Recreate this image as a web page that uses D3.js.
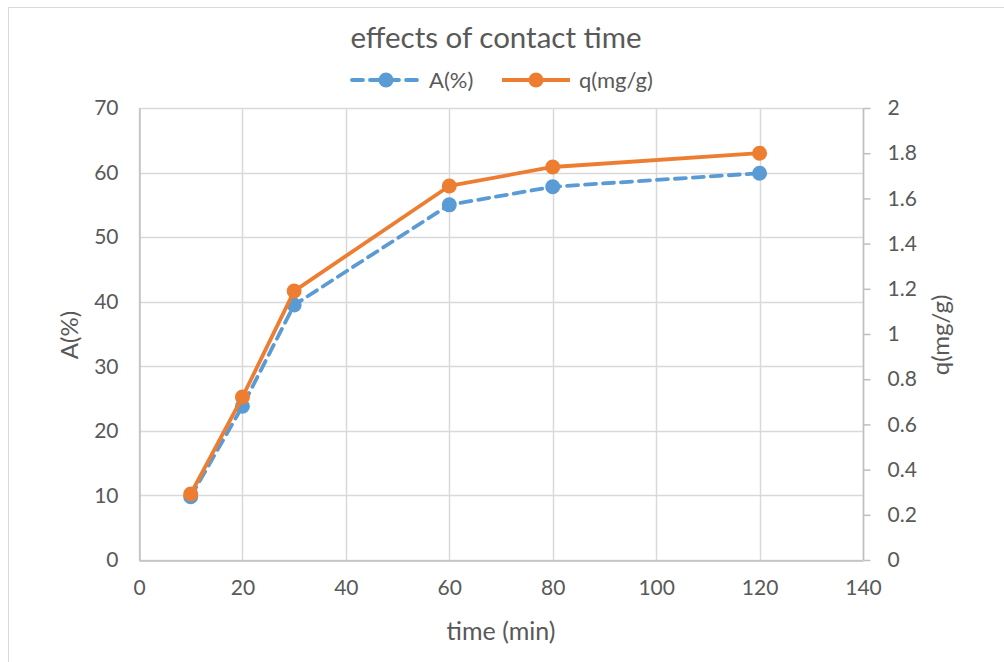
<!DOCTYPE html>
<html>
<head>
<meta charset="utf-8">
<script src="https://cdn.jsdelivr.net/npm/d3@7/dist/d3.min.js"></script>
<style>
  html, body { margin: 0; padding: 0; background: #fff; }
  svg { display: block; font-family: Lato, "Open Sans", sans-serif; }
</style>
</head>
<body>
<svg id="chart" width="1004" height="662"></svg>
<script>
// Contact time (min)
const times = [10, 20, 30, 60, 80, 120];
// Removal efficiency A(%)
const removal = [9.8, 23.8, 39.5, 55.0, 57.8, 59.9];
// Adsorption capacity q (mg/g)
const capacity = [0.292, 0.721, 1.19, 1.655, 1.739, 1.80];

const xTicks = [0, 20, 40, 60, 80, 100, 120, 140];
const leftTicks = [0, 10, 20, 30, 40, 50, 60, 70];
const rightTicks = [0, 0.2, 0.4, 0.6, 0.8, 1, 1.2, 1.4, 1.6, 1.8, 2];

const titleText = "effects of contact time";
const seriesNames = ["A(%)", "q(mg/g)"];
const xTitle = "time (min)";
const leftTitle = "A(%)";
const rightTitle = "q(mg/g)";

const blue = "#5b9bd5", orange = "#ed7d31", textCol = "#595959";
const grid = "#d9d9d9", axisCol = "#bfbfbf";

const svg = d3.select("#chart");
const plot = { left: 139, right: 863, top: 108, bottom: 560 };

// chart frame
svg.append("rect").attr("x", 8.5).attr("y", 7.5).attr("width", 1010).attr("height", 670)
  .attr("fill", "#fff").attr("stroke", "#d9d9d9").attr("stroke-width", 1);

const x = d3.scaleLinear().domain([0, 140]).range([plot.left, plot.right]);
const yL = d3.scaleLinear().domain([0, 70]).range([plot.bottom, plot.top]);
const yR = d3.scaleLinear().domain([0, 2]).range([plot.bottom, plot.top]);

// gridlines
svg.append("g").selectAll("line").data(leftTicks).join("line")
  .attr("x1", plot.left).attr("x2", plot.right)
  .attr("y1", d => Math.round(yL(d)) + 0.5).attr("y2", d => Math.round(yL(d)) + 0.5)
  .attr("stroke", grid).attr("stroke-width", 1.5);
svg.append("g").selectAll("line").data(xTicks).join("line")
  .attr("y1", plot.top).attr("y2", plot.bottom)
  .attr("x1", d => Math.round(x(d)) + 0.5).attr("x2", d => Math.round(x(d)) + 0.5)
  .attr("stroke", grid).attr("stroke-width", 1.5);

const tickFont = "21px";

// bottom axis
const xAxis = svg.append("g").attr("transform", `translate(0,${Math.round(plot.bottom) + 0.5})`)
  .call(d3.axisBottom(x).tickValues(xTicks).tickSize(0).tickPadding(20).tickFormat(d3.format("d")));
xAxis.select(".domain").attr("stroke", axisCol).attr("stroke-width", 1.5);
xAxis.selectAll("text").attr("fill", textCol).style("font-size", tickFont).style("font-family", "Lato, sans-serif");

// left axis
const lAxis = svg.append("g").attr("transform", `translate(${plot.left + 0.5},0)`)
  .call(d3.axisLeft(yL).tickValues(leftTicks).tickSize(0).tickPadding(21).tickFormat(d3.format("d")));
lAxis.select(".domain").attr("stroke", axisCol).attr("stroke-width", 1.5);
lAxis.selectAll("text").attr("fill", textCol).style("font-size", tickFont).style("font-family", "Lato, sans-serif");

// right axis with outward tick marks
const rAxis = svg.append("g").attr("transform", `translate(${plot.right + 0.5},0)`)
  .call(d3.axisRight(yR).tickValues(rightTicks).tickSize(7).tickPadding(17)
    .tickFormat(d => d3.format("~g")(d)));
rAxis.select(".domain").attr("stroke", axisCol).attr("stroke-width", 1.5).attr("d", `M0,${plot.top}V${plot.bottom}`);
rAxis.selectAll(".tick line").attr("stroke", axisCol).attr("stroke-width", 1.5);
rAxis.selectAll("text").attr("fill", textCol).style("font-size", tickFont).style("font-family", "Lato, sans-serif");

// series
const seriesA = times.map((t, i) => [t, removal[i]]);
const seriesQ = times.map((t, i) => [t, capacity[i]]);

svg.append("path").datum(seriesA)
  .attr("d", d3.line().x(d => x(d[0])).y(d => yL(d[1])))
  .attr("fill", "none").attr("stroke", blue).attr("stroke-width", 3.8)
  .attr("stroke-dasharray", "11,7").attr("stroke-linecap", "round");
svg.append("g").selectAll("circle").data(seriesA).join("circle")
  .attr("cx", d => x(d[0])).attr("cy", d => yL(d[1])).attr("r", 7.5).attr("fill", blue);

svg.append("path").datum(seriesQ)
  .attr("d", d3.line().x(d => x(d[0])).y(d => yR(d[1])))
  .attr("fill", "none").attr("stroke", orange).attr("stroke-width", 3.8).attr("stroke-linejoin", "round");
svg.append("g").selectAll("circle").data(seriesQ).join("circle")
  .attr("cx", d => x(d[0])).attr("cy", d => yR(d[1])).attr("r", 7.5).attr("fill", orange);

// title
svg.append("text").attr("x", 496).attr("y", 48).attr("text-anchor", "middle")
  .attr("fill", textCol).style("font-size", "29.5px").text(titleText);

// legend
const leg = [
  { name: seriesNames[0], color: blue, dash: "11,7", x0: 352 },
  { name: seriesNames[1], color: orange, dash: null, x0: 502 }
];
const lg = svg.append("g");
leg.forEach(l => {
  lg.append("line").attr("x1", l.x0).attr("x2", l.x0 + 68).attr("y1", 80).attr("y2", 80)
    .attr("stroke", l.color).attr("stroke-width", 3.8)
    .attr("stroke-dasharray", l.dash).attr("stroke-linecap", l.dash ? "round" : "butt");
  lg.append("circle").attr("cx", l.x0 + 34).attr("cy", 80).attr("r", 7.5).attr("fill", l.color);
  lg.append("text").attr("x", l.x0 + 77).attr("y", 88).attr("fill", textCol)
    .style("font-size", "22px").text(l.name);
});

// axis titles
svg.append("text").attr("x", 501).attr("y", 640).attr("text-anchor", "middle")
  .attr("fill", textCol).style("font-size", "25px").text(xTitle);
svg.append("text").attr("transform", "translate(78,335) rotate(-90)").attr("text-anchor", "middle")
  .attr("fill", textCol).style("font-size", "24px").text(leftTitle);
svg.append("text").attr("transform", "translate(949,335) rotate(-90)").attr("text-anchor", "middle")
  .attr("fill", textCol).style("font-size", "24px").text(rightTitle);
</script>
</body>
</html>
